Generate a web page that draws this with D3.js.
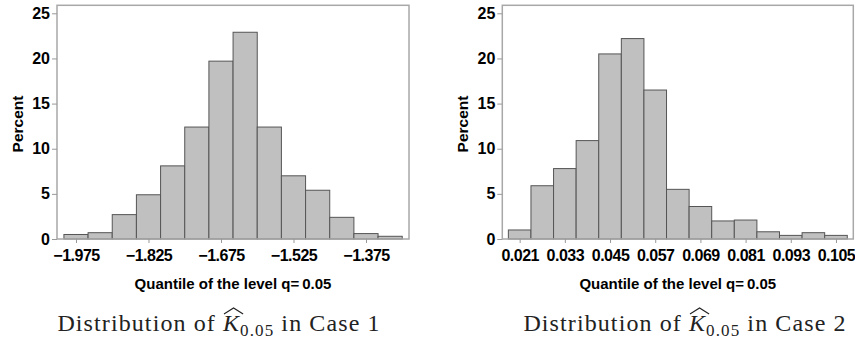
<!DOCTYPE html>
<html>
<head>
<meta charset="utf-8">
<script src="https://cdn.jsdelivr.net/npm/d3@7"></script>
<style>
  body { margin: 0; background: #fff; }
  svg { display: block; }
  .tick text { font-family: "Liberation Sans", Arial, sans-serif; font-weight: bold; font-size: 16px; fill: #000; }
</style>
</head>
<body>
<div id="chart"></div>
<script>
// histogram bin midpoints and percents
const case1Mid = [-1.975, -1.925, -1.875, -1.825, -1.775, -1.725, -1.675, -1.625, -1.575, -1.525, -1.475, -1.425, -1.375, -1.325];
const case1Pct = [0.5, 0.7, 2.7, 4.9, 8.1, 12.4, 19.7, 22.9, 12.4, 7.0, 5.4, 2.4, 0.6, 0.3];
const case1Ticks = [-1.975, -1.825, -1.675, -1.525, -1.375];

const case2Mid = [0.021, 0.027, 0.033, 0.039, 0.045, 0.051, 0.057, 0.063, 0.069, 0.075, 0.081, 0.087, 0.093, 0.099, 0.105];
const case2Pct = [1.0, 5.9, 7.8, 10.9, 20.5, 22.2, 16.5, 5.5, 3.6, 2.0, 2.1, 0.8, 0.4, 0.7, 0.4];
const case2Ticks = [0.021, 0.033, 0.045, 0.057, 0.069, 0.081, 0.093, 0.105];

const yTicks = [0, 5, 10, 15, 20, 25];
const xTitle = "Quantile of the level q=\u20090.05";
const yTitle = "Percent";

const width = 855, height = 352;
const svg = d3.select("#chart").append("svg")
  .attr("width", width)
  .attr("height", height);

const y = d3.scaleLinear().domain([0, 25]).range([239, 13.3]);

function drawPanel(opts) {
  const x = d3.scaleLinear().domain(opts.domain).range(opts.range);
  const g = svg.append("g");
  const top = y(25) - 8, bottom = y(0);

  // bars
  g.selectAll("rect.bar")
    .data(opts.mid.map((m, i) => ({ m: m, p: opts.pct[i] })))
    .enter()
    .append("rect")
    .attr("class", "bar")
    .attr("x", d => x(d.m - opts.bin / 2))
    .attr("width", d => x(d.m + opts.bin / 2) - x(d.m - opts.bin / 2))
    .attr("y", d => y(d.p))
    .attr("height", d => y(0) - y(d.p))
    .style("fill", "#c0c0c0")
    .style("stroke", "#555")
    .style("stroke-width", 1);

  // frame
  g.append("rect")
    .attr("x", opts.range[0])
    .attr("y", top)
    .attr("width", opts.range[1] - opts.range[0])
    .attr("height", bottom - top)
    .style("fill", "none")
    .style("stroke", "#a8a8a8")
    .style("stroke-width", 1.5);

  // x axis
  const xa = g.append("g")
    .attr("transform", "translate(0," + bottom + ")")
    .call(d3.axisBottom(x).tickValues(opts.ticks).tickFormat(opts.fmt).tickSize(4).tickPadding(7));
  xa.select(".domain").remove();
  xa.selectAll(".tick line").style("stroke", "#999");
  xa.selectAll(".tick text").style("letter-spacing", "-0.5px");

  // y axis
  const ya = g.append("g")
    .attr("transform", "translate(" + opts.range[0] + ",0)")
    .call(d3.axisLeft(y).tickValues(yTicks).tickFormat(d3.format("d")).tickSize(5).tickPadding(2));
  ya.select(".domain").remove();
  ya.selectAll(".tick line").style("stroke", "#999");

  // axis titles
  g.append("text")
    .attr("x", (opts.range[0] + opts.range[1]) / 2)
    .attr("y", 289)
    .attr("text-anchor", "middle")
    .style("font-family", "Liberation Sans, Arial, sans-serif")
    .style("font-weight", "bold")
    .style("font-size", "15px")
    .text(xTitle);

  g.append("text")
    .attr("transform", "translate(" + opts.ylabX + ",124) rotate(-90)")
    .attr("text-anchor", "middle")
    .style("font-family", "Liberation Sans, Arial, sans-serif")
    .style("font-weight", "bold")
    .style("font-size", "15.5px")
    .text(yTitle);

  // caption under the panel: Distribution of K-hat_{0.05} in Case n
  const cap = svg.append("text")
    .attr("x", opts.capX)
    .attr("y", 331)
    .attr("text-anchor", "middle")
    .style("font-family", "Liberation Serif, serif")
    .style("font-size", "24px")
    .style("letter-spacing", "1.1px")
    .style("fill", "#222");
  cap.append("tspan").text("Distribution of ");
  cap.append("tspan").style("font-style", "italic").text("K");
  cap.append("tspan").attr("dy", 5).style("font-size", "17px").text("0.05");
  cap.append("tspan").attr("dy", -5).text(" in Case " + opts.caseNo);

  // wide hat over K
  const kIdx = "Distribution of ".length;
  const ext = cap.node().getExtentOfChar(kIdx);
  const hx0 = ext.x + 1, hx1 = ext.x + ext.width + 3, hy = ext.y + 1;
  svg.append("path")
    .attr("d", "M" + hx0 + "," + (hy + 3) + "L" + ((hx0 + hx1) / 2) + "," + (hy - 3) + "L" + hx1 + "," + (hy + 3))
    .style("fill", "none")
    .style("stroke", "#222")
    .style("stroke-width", 1.1);
}

const minusFmt = d => d3.format(".3f")(d).replace("-", "\u2212");

drawPanel({
  mid: case1Mid, pct: case1Pct, bin: 0.05, ticks: case1Ticks,
  domain: [-2.0143, -1.286], range: [57, 409],
  fmt: minusFmt, ylabX: 23, capX: 219, caseNo: 1
});

drawPanel({
  mid: case2Mid, pct: case2Pct, bin: 0.006, ticks: case2Ticks,
  domain: [0.01639, 0.1096], range: [502.3, 853.3],
  fmt: d3.format(".3f"), ylabX: 467.5, capX: 685, caseNo: 2
});
</script>
</body>
</html>
